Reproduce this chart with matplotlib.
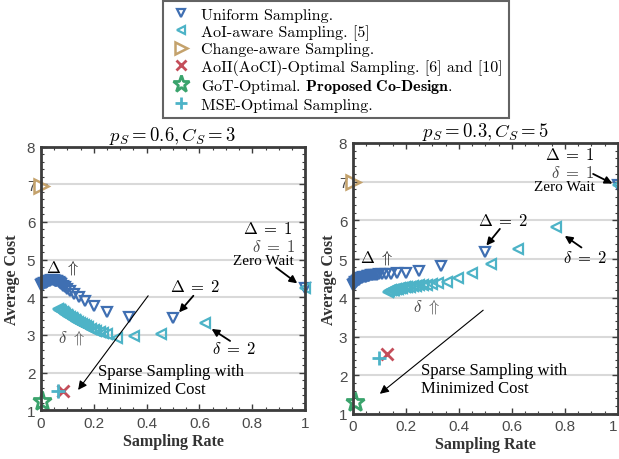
import matplotlib
matplotlib.use("Agg")
import matplotlib.pyplot as plt
from matplotlib.ticker import MultipleLocator

plt.rcParams['mathtext.fontset'] = 'cm'
plt.rcParams['axes.unicode_minus'] = False

# ---------------- data ----------------
# Left panel: p_S = 0.6, C_S = 3
L_uni_x = [1.0, 0.5, 0.333, 0.25, 0.2, 0.167, 0.143, 0.125, 0.111, 0.1, 0.091, 0.083,
           0.077, 0.071, 0.067, 0.0625, 0.059, 0.056, 0.053, 0.05, 0.045, 0.04, 0.036,
           0.032, 0.028, 0.025, 0.022, 0.019, 0.016, 0.013, 0.01, 0.008, 0.006, 0.004, 0.002]
L_uni_y = [4.25, 3.45, 3.48, 3.62, 3.78, 3.91, 4.0, 4.09, 4.16, 4.22, 4.27, 4.31,
           4.35, 4.38, 4.40, 4.42, 4.43, 4.44, 4.44, 4.45, 4.45, 4.45, 4.44,
           4.43, 4.42, 4.41, 4.40, 4.39, 4.38, 4.37, 4.36, 4.35, 4.34, 4.33, 4.32]
L_aoi_x = [1.0, 0.62, 0.453, 0.353, 0.289, 0.25, 0.235, 0.222, 0.21, 0.2, 0.19, 0.18,
           0.171, 0.163, 0.155, 0.148, 0.141, 0.134, 0.128, 0.122, 0.116, 0.11, 0.104,
           0.098, 0.093, 0.088, 0.083, 0.078, 0.073, 0.068, 0.064]
L_aoi_y = [4.25, 3.32, 3.02, 2.97, 2.92, 3.02, 3.05, 3.08, 3.11, 3.14, 3.17, 3.2,
           3.23, 3.26, 3.29, 3.31, 3.34, 3.37, 3.39, 3.42, 3.45, 3.48, 3.51,
           3.54, 3.56, 3.59, 3.61, 3.63, 3.65, 3.67, 3.69]
L_change = (0.0, 6.95)
L_aoii = (0.085, 1.5)
L_got = (0.005, 1.25)
L_mse = (0.065, 1.5)

# Right panel: p_S = 0.3, C_S = 5
R_uni_x = [1.0, 0.5, 0.333, 0.25, 0.2, 0.167, 0.143, 0.125, 0.111, 0.1, 0.091, 0.083,
           0.077, 0.071, 0.067, 0.0625, 0.059, 0.056, 0.05, 0.045, 0.04, 0.036, 0.032,
           0.028, 0.025, 0.022, 0.019, 0.016, 0.013, 0.01, 0.008, 0.006, 0.004, 0.002]
R_uni_y = [6.92, 5.18, 4.82, 4.69, 4.65, 4.63, 4.62, 4.62, 4.61, 4.61, 4.6, 4.6,
           4.59, 4.58, 4.58, 4.57, 4.57, 4.56, 4.55, 4.54, 4.53, 4.52, 4.51,
           4.5, 4.49, 4.47, 4.46, 4.44, 4.42, 4.4, 4.38, 4.36, 4.34, 4.32]
R_aoi_x = [1.0, 0.766, 0.624, 0.522, 0.45, 0.397, 0.357, 0.322, 0.297, 0.28, 0.265,
           0.25, 0.238, 0.226, 0.215, 0.205, 0.196, 0.187, 0.179, 0.171, 0.164, 0.157,
           0.15, 0.144, 0.138, 0.133]
R_aoi_y = [6.92, 5.82, 5.26, 4.88, 4.64, 4.5, 4.42, 4.38, 4.36, 4.34, 4.33,
           4.32, 4.31, 4.3, 4.29, 4.28, 4.27, 4.26, 4.25, 4.24, 4.23, 4.21,
           4.2, 4.19, 4.17, 4.15]
R_change = (0.0, 7.0)
R_aoii = (0.13, 2.55)
R_got = (0.01, 1.3)
R_mse = (0.1, 2.45)

titles = [r"$p_S = 0.6, C_S = 3$", r"$p_S = 0.3, C_S = 5$"]
labels = ["Uniform Sampling.", "AoI-aware Sampling. [5]", "Change-aware Sampling.",
          "AoII(AoCI)-Optimal Sampling. [6] and [10]",
          r"GoT-Optimal. $\mathbf{Proposed\ Co}$-$\mathbf{Design.}$",
          "MSE-Optimal Sampling."]
xticks = [0, 0.2, 0.4, 0.6, 0.8, 1]
xticklabels = ["0", "0.2", "0.4", "0.6", "0.8", "1"]
yticks = [1, 2, 3, 4, 5, 6, 7, 8]

C_BLUE = "#3f6fb2"
C_CYAN = "#4db3c7"
C_TAN = "#c4a26c"
C_RED = "#c44e5a"
C_GREEN = "#3aa36c"
SPINE = "#3c3c3c"

fig = plt.figure(figsize=(6.19, 4.6), dpi=100)
axL = fig.add_axes([0.066, 0.106, 0.427, 0.573])
axR = fig.add_axes([0.570, 0.098, 0.428, 0.589])

serif = "Liberation Serif"

def style(ax, title, ylabelpad):
    ax.set_xlim(0, 1)
    ax.set_ylim(1, 8)
    ax.set_xticks(xticks)
    ax.set_xticklabels(xticklabels)
    ax.set_yticks(yticks)
    ax.xaxis.set_minor_locator(MultipleLocator(0.05))
    ax.yaxis.set_minor_locator(MultipleLocator(0.2))
    ax.tick_params(which='both', direction='in', top=True, right=True, color=SPINE)
    ax.tick_params(which='major', length=4, width=1.0, labelsize=11, labelcolor='#4a4a4a', pad=4)
    ax.tick_params(which='minor', length=2, width=0.8)
    for lab in ax.get_xticklabels() + ax.get_yticklabels():
        lab.set_fontfamily('Liberation Sans')
    for s in ax.spines.values():
        s.set_color(SPINE)
        s.set_linewidth(2.0)
    ax.grid(axis='y', color='#d9d9d9', lw=1.5)
    ax.set_axisbelow(True)
    ax.set_xlabel("Sampling Rate", fontfamily=serif, fontweight='bold', fontsize=11.5,
                  color='#333333', labelpad=2)
    ax.set_ylabel("Average Cost", fontfamily=serif, fontweight='bold', fontsize=11.5,
                  color='#333333', labelpad=ylabelpad)
    ax.set_title(title, fontsize=13.5, pad=5)

def plot_panel(ax, ux, uy, ax_, ay, chg, aoii, got, mse):
    h1, = ax.plot(ux, uy, 'v', ls='none', mfc='none', mec=C_BLUE, mew=1.6, ms=7, clip_on=False)
    h2, = ax.plot(ax_, ay, '<', ls='none', mfc='none', mec=C_CYAN, mew=1.6, ms=7, clip_on=False)
    h3, = ax.plot([chg[0]], [chg[1]], '>', ls='none', mfc='none', mec=C_TAN, mew=1.8, ms=10, clip_on=False)
    h4, = ax.plot([aoii[0]], [aoii[1]], 'x', ls='none', mec=C_RED, mew=2.0, ms=8, clip_on=False)
    h5, = ax.plot([got[0]], [got[1]], '*', ls='none', mfc='none', mec=C_GREEN, mew=2.0, ms=14, clip_on=False)
    h6, = ax.plot([mse[0]], [mse[1]], '+', ls='none', mec=C_CYAN, mew=2.0, ms=10, clip_on=False)
    return [h1, h2, h3, h4, h5, h6]

handles = plot_panel(axL, L_uni_x, L_uni_y, L_aoi_x, L_aoi_y, L_change, L_aoii, L_got, L_mse)
plot_panel(axR, R_uni_x, R_uni_y, R_aoi_x, R_aoi_y, R_change, R_aoii, R_got, R_mse)
style(axL, titles[0], 5)
style(axR, titles[1], 1.0)
axR.get_xticklabels()[-1].set_horizontalalignment('right')

arrow = dict(arrowstyle='-|>', color='black', lw=1.3, mutation_scale=11, shrinkA=0, shrinkB=0)
thin = dict(arrowstyle='-|>', color='black', lw=0.8, mutation_scale=13, shrinkA=0, shrinkB=0)

D1 = r"$\Delta \;=\; 1$"
d1 = r"$\delta \;=\; 1$"
D2 = r"$\Delta \;=\; 2$"
d2 = r"$\delta \;=\; 2$"
Dup = r"$\Delta\ \Uparrow$"
dup = r"$\delta\ \Uparrow$"

# left annotations
axL.text(0.02, 4.8, Dup, fontsize=12, va='center', ha='left')
axL.text(0.585, 4.3, D2, fontsize=12, va='center', ha='center')
axL.annotate("", xy=(0.523, 3.6), xytext=(0.577, 4.04), arrowprops=arrow)
axL.text(0.86, 5.83, D1, fontsize=12, va='center', ha='center')
axL.text(0.88, 5.36, d1, fontsize=12, va='center', ha='center', color='#444444')
axL.text(0.84, 4.98, "Zero Wait", fontfamily=serif, fontsize=11, va='center', ha='center')
axL.annotate("", xy=(0.97, 4.37), xytext=(0.89, 4.79), arrowprops=arrow)
axL.text(0.065, 2.95, dup, fontsize=12, va='center', ha='left', color='#444444')
axL.text(0.73, 2.64, d2, fontsize=12, va='center', ha='center')
axL.annotate("", xy=(0.646, 3.16), xytext=(0.716, 2.84), arrowprops=arrow)
axL.annotate("", xy=(0.141, 1.54), xytext=(0.406, 4.04), arrowprops=thin)
axL.text(0.216, 2.04, "Sparse Sampling with", fontfamily=serif, fontsize=12, va='center', ha='left')
axL.text(0.216, 1.56, "Minimized Cost", fontfamily=serif, fontsize=12, va='center', ha='left')

# right annotations
axR.text(0.82, 7.72, D1, fontsize=12, va='center', ha='center')
axR.text(0.83, 7.26, d1, fontsize=12, va='center', ha='center', color='#444444')
axR.text(0.80, 6.88, "Zero Wait", fontfamily=serif, fontsize=11, va='center', ha='center')
axR.annotate("", xy=(0.98, 6.95), xytext=(0.907, 7.2), arrowprops=arrow)
axR.text(0.567, 6.02, D2, fontsize=12, va='center', ha='center')
axR.annotate("", xy=(0.504, 5.35), xytext=(0.555, 5.78), arrowprops=arrow)
axR.text(0.026, 5.06, Dup, fontsize=12, va='center', ha='left')
axR.text(0.226, 3.8, dup, fontsize=12, va='center', ha='left', color='#444444')
axR.text(0.877, 5.06, d2, fontsize=12, va='center', ha='center')
axR.annotate("", xy=(0.8, 5.6), xytext=(0.863, 5.3), arrowprops=arrow)
axR.annotate("", xy=(0.102, 1.52), xytext=(0.492, 3.68), arrowprops=thin)
axR.text(0.259, 2.14, "Sparse Sampling with", fontfamily=serif, fontsize=12, va='center', ha='left')
axR.text(0.259, 1.66, "Minimized Cost", fontfamily=serif, fontsize=12, va='center', ha='left')

leg = fig.legend(handles, labels, loc='upper left', bbox_to_anchor=(163 / 619, 1 - 2 / 460),
                 prop={'family': 'cmr10', 'size': 11.5}, frameon=True, fancybox=False,
                 edgecolor=SPINE, handlelength=1.5, handletextpad=0.45, labelspacing=0.15,
                 borderpad=0.4, borderaxespad=0, markerscale=0.9)
leg.get_frame().set_linewidth(1.5)

fig.savefig("out.png", dpi=100)
